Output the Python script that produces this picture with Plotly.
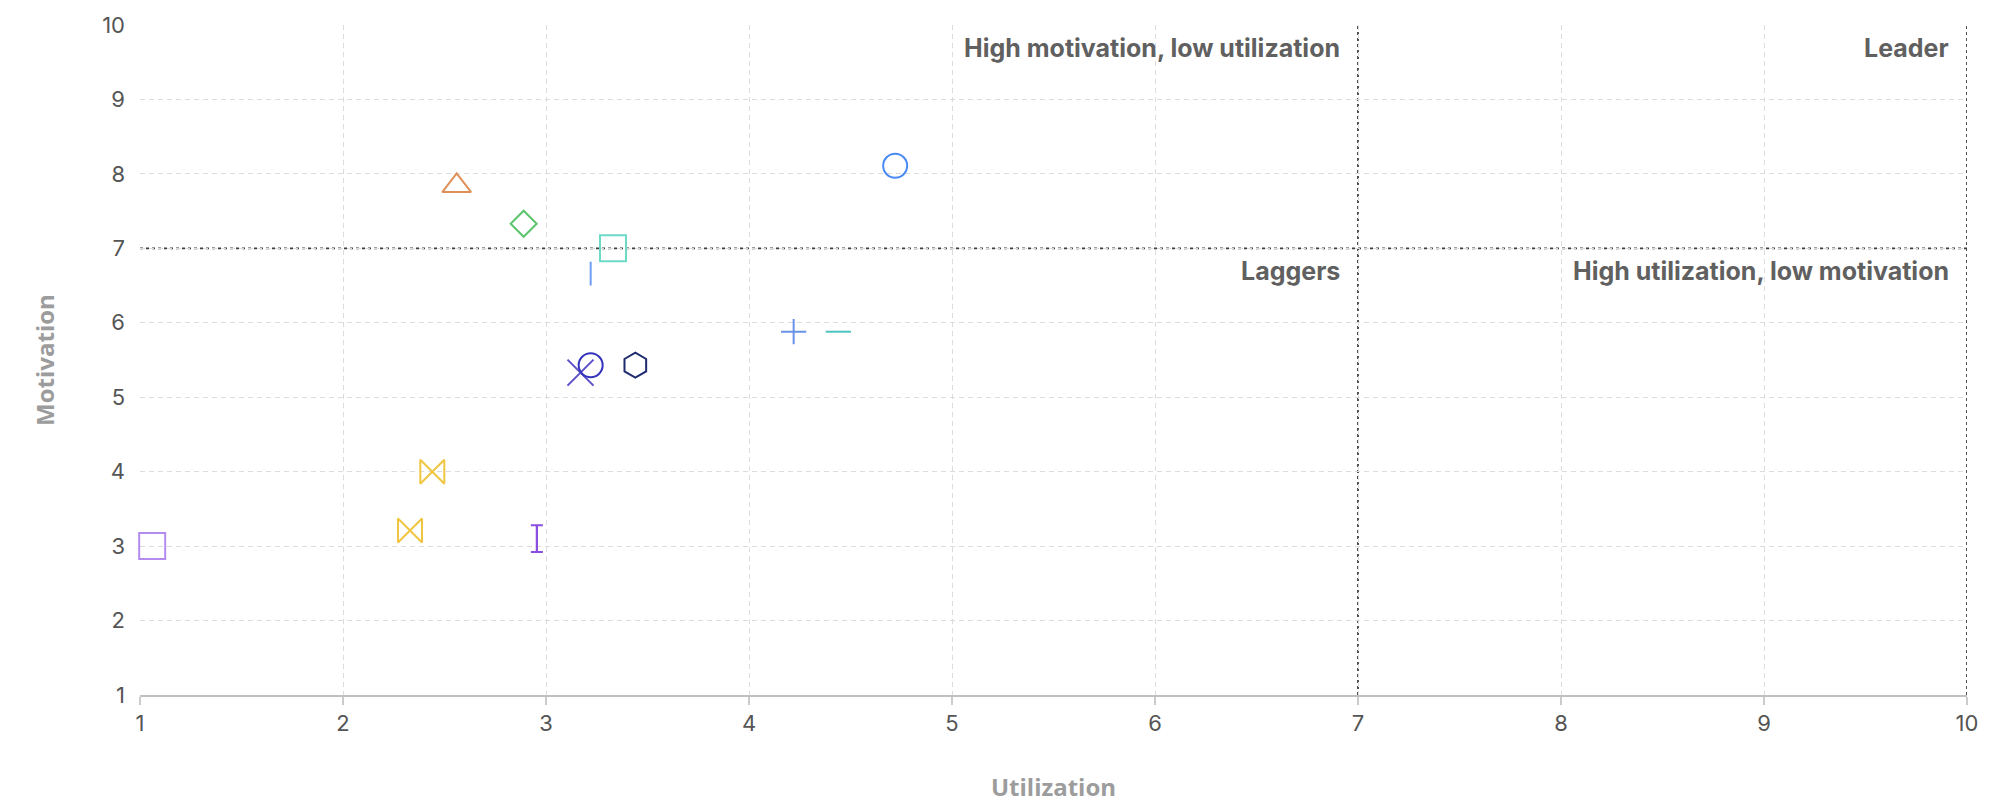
import plotly.graph_objects as go

# ---- data ----
utilization = [4.72, 2.56, 2.89, 3.33, 3.22, 3.17, 3.22, 3.44, 4.22, 4.44, 2.44, 2.33, 2.955, 1.06]
motivation  = [8.11, 7.84, 7.33, 7.00, 6.66, 5.33, 5.43, 5.43, 5.88, 5.88, 4.00, 3.21, 3.10, 3.00]

# ---- styles ----
symbols = ["circle-open", "triangle-up-open", "diamond-open", "square-open", "line-ns-open",
           "x-thin-open", "circle-open", "hexagon-open", "cross-thin-open", "line-ew-open",
           "bowtie-open", "bowtie-open", "ibeam", "square-open"]
colors = ["#4a8af4", "#df9058", "#5cc46c", "#6cdac6", "#6d9ef2",
          "#5a4fc8", "#3434bc", "#1e2b6e", "#6a92e8", "#4cc4bf",
          "#f0c540", "#f0c540", "#8a4ee0", "#b48cf0"]
sizes = [24, 25, 20, 26, 17, 26, 24, 25, 18, 18, 24, 24, 19, 26]

quadrant_x = 7
quadrant_y = 7
axis_min, axis_max = 1, 10
ticks = list(range(1, 11))
quadrant_labels = [
    ("High motivation, low utilization", quadrant_x, axis_max),
    ("Leader", axis_max, axis_max),
    ("Laggers", quadrant_x, quadrant_y),
    ("High utilization, low motivation", axis_max, quadrant_y),
]

fig = go.Figure()

for x, y, s, c, sz in zip(utilization, motivation, symbols, colors, sizes):
    if s == "ibeam":
        fig.add_trace(go.Scatter(
            x=[x], y=[y], mode="markers",
            marker=dict(symbol="line-ns-open", size=sz, color=c, line=dict(color=c, width=2)),
            error_y=dict(type="constant", value=0.18, color=c, thickness=2, width=6),
            cliponaxis=False, showlegend=False, hoverinfo="x+y"))
    else:
        fig.add_trace(go.Scatter(
            x=[x], y=[y], mode="markers",
            marker=dict(symbol=s, size=sz, color=c, line=dict(color=c, width=2)),
            cliponaxis=False, showlegend=False, hoverinfo="x+y"))

line_style = dict(color="#3f3f3f", width=1.8, dash="3px,3px")
fig.add_vline(x=quadrant_x, line=line_style, layer="below")
fig.add_vline(x=axis_max, line=line_style, layer="below")
fig.add_hline(y=quadrant_y, line=line_style, layer="below")

for text, ax, ay in quadrant_labels:
    fig.add_annotation(x=ax, y=ay, xref="x", yref="y", text="<b>%s</b>" % text,
                       showarrow=False, xanchor="right", yanchor="top",
                       xshift=-16, yshift=-6,
                       font=dict(family="Inter", size=25, color="#606060"))

fig.update_layout(
    width=2000, height=804,
    margin=dict(l=140, r=33, t=25, b=109),
    plot_bgcolor="white", paper_bgcolor="white",
    font=dict(family="Inter", color="#555555"),
    showlegend=False,
)
fig.update_xaxes(
    range=[axis_min, axis_max], tickvals=ticks, automargin=False,
    showgrid=True, gridcolor="#dcdcdc", griddash="5px,4px", gridwidth=1.2,
    zeroline=False, showline=True, linecolor="#c0c0c0", linewidth=2,
    ticks="outside", ticklen=8, tickcolor="#cccccc", tickwidth=1.5,
    tickfont=dict(family="Inter", size=22, color="#555555"),
    title=dict(text="<b>Utilization</b>", standoff=44,
               font=dict(family="Open Sans", size=24, color="#9c9c9c")),
)
fig.update_yaxes(
    range=[axis_min, axis_max], tickvals=ticks, automargin=False,
    showgrid=True, gridcolor="#dcdcdc", griddash="5px,4px", gridwidth=1.2,
    zeroline=False, showline=False,
    ticks="", ticklabelstandoff=14,
    tickfont=dict(family="Inter", size=22, color="#555555"),
    title=dict(text="<b>Motivation</b>", standoff=40,
               font=dict(family="Open Sans", size=24, color="#9c9c9c")),
)

fig.write_html("out.html")
